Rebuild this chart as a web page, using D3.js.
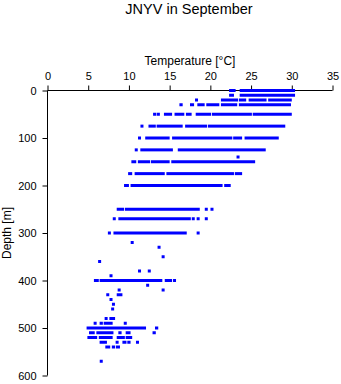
<!DOCTYPE html>
<html>
<head>
<meta charset="utf-8">
<script src="https://cdn.jsdelivr.net/npm/d3@7"></script>
<style>
  html, body { margin: 0; padding: 0; background: #fff; }
  svg { display: block; }
  text { font-family: "Liberation Sans", Arial, Helvetica, sans-serif; fill: #000; }
</style>
</head>
<body>
<svg id="chart" width="341" height="384"></svg>
<script>
// ---- data ----
const title = "JNYV in September";
const xLabel = "Temperature [°C]";
const yLabel = "Depth [m]";
const tempTicks = [0, 5, 10, 15, 20, 25, 30, 35];
const depthTicks = [0, 100, 200, 300, 400, 500, 600];

// sampled depths (m)
const depths = [0, 10, 20, 30, 50, 75, 100, 125, 140, 150, 175, 200, 250, 270, 300,
  320, 330, 350, 360, 380, 390, 400, 410, 420, 430, 440, 450, 460, 480, 490, 500,
  510, 520, 530, 540, 570];

// observed temperature runs at each depth: [from, to] in °C (single readings have from == to)
const tempRuns = [
  [[22.3, 23.1], [23.6, 30.4]],
  [[22.3, 22.9], [23.6, 30.4]],
  [[18.3, 18.3], [21.3, 23.4], [23.5, 24.4], [24.7, 26.9], [27.1, 30.0]],
  [[16.2, 16.6], [17.5, 18.0], [18.4, 19.3], [19.5, 21.1], [21.3, 23.3], [23.5, 29.9]],
  [[13.0, 13.3], [13.4, 13.8], [14.3, 15.3], [15.6, 16.8], [17.0, 17.7], [18.2, 20.1], [20.2, 25.1], [25.2, 30.0]],
  [[11.6, 11.6], [12.4, 13.3], [13.4, 16.6], [16.9, 19.6], [19.7, 29.2]],
  [[11.3, 11.3], [12.0, 15.0], [15.3, 22.7], [22.8, 23.9], [24.2, 28.4]],
  [[10.9, 10.9], [11.4, 15.4], [16.0, 26.8]],
  [[23.4, 23.4]],
  [[10.3, 10.9], [11.1, 12.6], [12.7, 15.0], [15.2, 25.5]],
  [[9.9, 10.4], [10.7, 14.4], [14.6, 22.9], [23.0, 23.9]],
  [[9.4, 10.0], [10.2, 21.5], [21.7, 22.5]],
  [[8.5, 9.4], [9.5, 18.7], [19.5, 19.5], [20.2, 20.2]],
  [[8.2, 8.2], [8.7, 17.6], [17.9, 17.9], [18.5, 18.5], [19.5, 19.5]],
  [[7.6, 7.6], [8.1, 17.1], [18.5, 18.5]],
  [[10.4, 10.4]],
  [[13.7, 13.7]],
  [[14.2, 14.2]],
  [[6.4, 6.4]],
  [[11.3, 11.3], [12.5, 12.5]],
  [[7.8, 7.8]],
  [[5.7, 6.3], [6.4, 14.1], [14.4, 15.3], [15.6, 15.6]],
  [[12.3, 12.3]],
  [[8.8, 8.8], [14.2, 14.2]],
  [[7.4, 7.4], [8.5, 9.2]],
  [[7.8, 7.8]],
  [[8.1, 8.1]],
  [[8.0, 8.0]],
  [[7.1, 7.3], [7.6, 8.3]],
  [[5.7, 6.0], [6.4, 6.8], [6.9, 8.0], [9.4, 9.7]],
  [[4.8, 12.1], [13.2, 13.6]],
  [[5.1, 5.8], [6.0, 8.1], [8.7, 9.1], [9.6, 10.2], [12.9, 13.3]],
  [[4.9, 6.1], [6.3, 8.0], [8.5, 9.5], [9.6, 10.4]],
  [[6.4, 7.3], [8.4, 8.7], [9.2, 9.7], [9.8, 10.2], [10.9, 11.2]],
  [[7.1, 7.7], [7.9, 8.3], [8.4, 8.9]],
  [[6.6, 6.6]]
];

// ---- drawing ----
const svg = d3.select("#chart");
const x = d3.scaleLinear().domain([0, 35]).range([47.5, 332.5]);
const y = d3.scaleLinear().domain([0, 600]).range([90.5, 375.5]);

const runs = [];
depths.forEach((d, i) => tempRuns[i].forEach(r => runs.push({ depth: d, t0: r[0], t1: r[1] })));

// axes
const xAxis = d3.axisTop(x).tickValues(tempTicks).tickSize(5).tickSizeOuter(0).tickPadding(6);
const yAxis = d3.axisLeft(y).tickValues(depthTicks).tickSize(5).tickSizeOuter(0).tickPadding(6);

const gx = svg.append("g").attr("transform", "translate(0,90.5)").call(xAxis);
const gy = svg.append("g").attr("transform", "translate(47.5,0)").call(yAxis);
[gx, gy].forEach(g => {
  g.selectAll("text").style("font-size", "11px").style("font-family", "'Liberation Sans', Arial, sans-serif");
  g.selectAll("line, path").attr("stroke", "#000").attr("stroke-width", 1);
});
gx.select(".domain").attr("d", `M${x(0)},0H${x(35)}`);
gy.select(".domain").attr("d", `M0,${y(0)}V${y(600)}`);

// data marks
const mk = 3;
svg.append("g").selectAll("rect")
  .data(runs)
  .join("rect")
  .attr("x", r => {
    const w = x(r.t1) - x(r.t0);
    return w < mk ? (x(r.t0) + x(r.t1)) / 2 - mk / 2 : x(r.t0);
  })
  .attr("width", r => Math.max(mk, x(r.t1) - x(r.t0)))
  .attr("y", r => y(r.depth) - mk / 2)
  .attr("height", mk)
  .attr("fill", "#0000ff");

// titles
svg.append("text").attr("x", 189).attr("y", 14).attr("text-anchor", "middle")
  .style("font-size", "14.5px").text(title);
svg.append("text").attr("x", 190).attr("y", 65).attr("text-anchor", "middle")
  .style("font-size", "12px").text(xLabel);
svg.append("text").attr("transform", `translate(11,${(y(0) + y(600)) / 2}) rotate(-90)`)
  .attr("text-anchor", "middle").style("font-size", "12px").text(yLabel);
</script>
</body>
</html>
